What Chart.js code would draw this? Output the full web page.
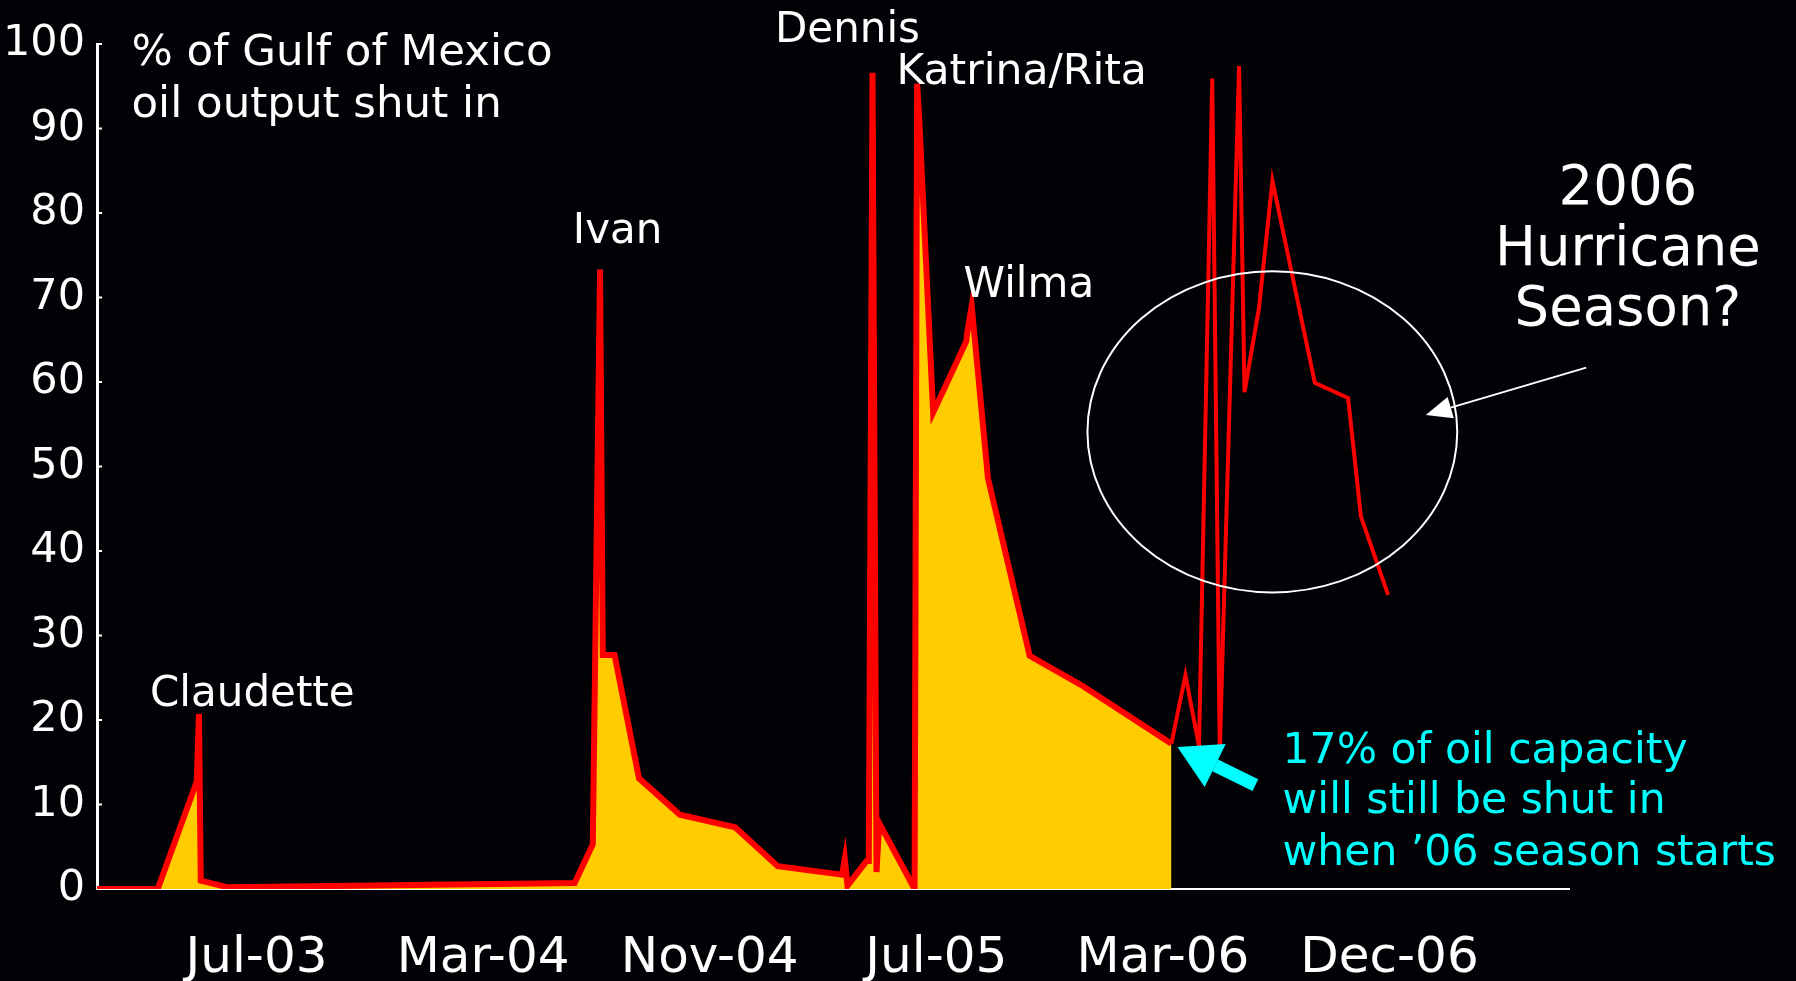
<!DOCTYPE html>
<html>
<head>
<meta charset="utf-8">
<title>Gulf of Mexico oil output shut in</title>
<script src="https://cdn.jsdelivr.net/npm/chart.js@4.4.1/dist/chart.umd.min.js"></script>
<style>
  html, body { margin: 0; padding: 0; background: #020106; }
  #wrap { position: relative; width: 1796px; height: 981px; }
</style>
</head>
<body>
<div id="wrap"><canvas id="shutin"></canvas></div>
<script>
// x values are days counted from early Jan 2003; y values are % of GoM oil output shut in
const histDays = [0, 67, 110, 112.5, 114.5, 144.5, 527, 547, 555, 558, 571, 598, 643, 704, 751,
                  822, 825, 828, 849, 851.5, 855.6, 860, 863, 902, 904.8, 907, 922.5, 959, 961, 965,
                  983, 1029, 1088, 1185.4];
const histPct  = [0, 0, 12.7, 20.7, 1.0, 0.2, 0.7, 5.3, 73.3, 27.7, 27.7, 13.1, 8.8, 7.3, 2.7,
                  1.7, 3.6, 0.4, 3.3, 3.3, 96.6, 2.0, 7.8, 0, 95.3, 91.4, 56.4, 64.8, 66.5, 69.0,
                  48.6, 27.6, 24.0, 17.2];

// hypothetical 2006 season (repeat of 2005 path), not shaded
const seasonDays = [1185.4, 1200.8, 1215.8, 1230.4, 1238.7, 1260, 1266, 1282, 1296.8, 1343.6, 1380.3, 1394.4, 1424.4];
const seasonPct  = [17.2, 25.3, 16.9, 95.9, 16.2, 97.4, 58.8, 68.8, 83.8, 59.9, 58.1, 44.1, 34.8];

const tickDays   = [176, 426, 676, 926, 1176, 1426];
const tickLabels = ['Jul-03', 'Mar-04', 'Nov-04', 'Jul-05', 'Mar-06', 'Dec-06'];

const FONT = '"DejaVu Sans", Verdana, sans-serif';

// storm labels and notes, placed in data units
const notes = [
  { text: '% of Gulf of Mexico', d: 38,   p: 97.5, color: '#ffffff', size: 43.5 },
  { text: 'oil output shut in',  d: 38,   p: 91.4, color: '#ffffff', size: 43.5 },
  { text: 'Claudette',           d: 58.5, p: 21.7, color: '#ffffff', size: 42 },
  { text: 'Ivan',                d: 525,  p: 76.5, color: '#ffffff', size: 42 },
  { text: 'Dennis',              d: 748,  p: 100.2, color: '#ffffff', size: 42 },
  { text: 'Katrina/Rita',        d: 882,  p: 95.3, color: '#ffffff', size: 42.5 },
  { text: 'Wilma',               d: 956,  p: 70.1, color: '#ffffff', size: 42 },
  { text: '17% of oil capacity',    d: 1308, p: 14.9, color: '#00ffff', size: 42.5 },
  { text: 'will still be shut in',  d: 1308, p: 9.0,  color: '#00ffff', size: 42.5 },
  { text: "when \u201906 season starts", d: 1308, p: 2.8, color: '#00ffff', size: 42.5 },
];
const seasonTitle = ['2006', 'Hurricane', 'Season?'];
const seasonTitlePct = [81.1, 73.9, 66.8];

function arrow(ctx, x1, y1, x2, y2, width, head, headW, color) {
  const a = Math.atan2(y2 - y1, x2 - x1);
  const bx = x2 - head * Math.cos(a), by = y2 - head * Math.sin(a);
  ctx.strokeStyle = color; ctx.fillStyle = color; ctx.lineWidth = width;
  ctx.beginPath(); ctx.moveTo(x1, y1); ctx.lineTo(bx, by); ctx.stroke();
  ctx.beginPath();
  ctx.moveTo(x2, y2);
  ctx.lineTo(bx + headW * Math.sin(a), by - headW * Math.cos(a));
  ctx.lineTo(bx - headW * Math.sin(a), by + headW * Math.cos(a));
  ctx.closePath(); ctx.fill();
}

const decor = {
  id: 'decor',
  afterDraw(chart) {
    const { ctx, scales: { x, y } } = chart;
    ctx.save();
    // little inner ticks on the value axis
    ctx.strokeStyle = '#ffffff'; ctx.lineWidth = 2;
    for (let v = 10; v <= 100; v += 10) {
      const py = y.getPixelForValue(v);
      ctx.beginPath(); ctx.moveTo(x.left, py); ctx.lineTo(x.left + 5, py); ctx.stroke();
    }
    ctx.textBaseline = 'alphabetic';
    ctx.textAlign = 'left';
    notes.forEach(n => {
      ctx.font = `${n.size}px ${FONT}`;
      ctx.fillStyle = n.color;
      ctx.fillText(n.text, x.getPixelForValue(n.d), y.getPixelForValue(n.p));
    });
    ctx.textAlign = 'center';
    ctx.font = `54.5px ${FONT}`;
    ctx.fillStyle = '#ffffff';
    seasonTitle.forEach((t, i) => ctx.fillText(t, x.getPixelForValue(1689), y.getPixelForValue(seasonTitlePct[i])));

    // ellipse round the 2006 season
    const cx = x.getPixelForValue(1296.7), cy = y.getPixelForValue(54.1);
    const rx = x.getPixelForValue(1296.7 + 204) - cx, ry = y.getPixelForValue(54.1 - 19) - cy;
    ctx.strokeStyle = '#ffffff'; ctx.lineWidth = 2;
    ctx.beginPath(); ctx.ellipse(cx, cy, rx, ry, 0, 0, Math.PI * 2); ctx.stroke();

    arrow(ctx, x.getPixelForValue(1643), y.getPixelForValue(61.7),
               x.getPixelForValue(1466), y.getPixelForValue(56.1), 2, 26, 11, '#ffffff');
    arrow(ctx, x.getPixelForValue(1278), y.getPixelForValue(12.3),
               x.getPixelForValue(1192), y.getPixelForValue(16.8), 13, 42, 24, '#00ffff');
    ctx.restore();
  }
};

new Chart(document.getElementById('shutin'), {
  type: 'line',
  data: {
    datasets: [
      {
        label: 'Shut in',
        data: histDays.map((d, i) => ({ x: d, y: histPct[i] })),
        borderColor: '#ff0000', borderWidth: 6, backgroundColor: '#ffcc00',
        fill: 'origin', pointRadius: 0, tension: 0
      },
      {
        label: '2006 season?',
        data: seasonDays.map((d, i) => ({ x: d, y: seasonPct[i] })),
        borderColor: '#ff0000', borderWidth: 4, fill: false, pointRadius: 0, tension: 0
      }
    ]
  },
  options: {
    responsive: true, maintainAspectRatio: false, animation: false,
    layout: { padding: { left: 0, top: 44, right: 227, bottom: 0 } },
    plugins: { legend: { display: false }, tooltip: { enabled: false } },
    scales: {
      x: {
        type: 'linear', min: 0, max: 1624,
        afterFit: s => { s.height = 92; },
        afterBuildTicks: s => { s.ticks = tickDays.map(v => ({ value: v })); },
        ticks: { color: '#ffffff', font: { family: FONT, size: 50 }, padding: 40, maxRotation: 0, autoSkip: false,
                 callback: (v, i) => tickLabels[i] },
        grid: { display: false, drawTicks: false },
        border: { color: '#ffffff', width: 2 }
      },
      y: {
        min: 0, max: 100,
        afterFit: s => { s.width = 97; },
        ticks: { stepSize: 10, color: '#ffffff', font: { family: FONT, size: 43 }, padding: 12 },
        grid: { display: false, drawTicks: false },
        border: { color: '#ffffff', width: 3 }
      }
    }
  },
  plugins: [decor]
});
</script>
</body>
</html>
